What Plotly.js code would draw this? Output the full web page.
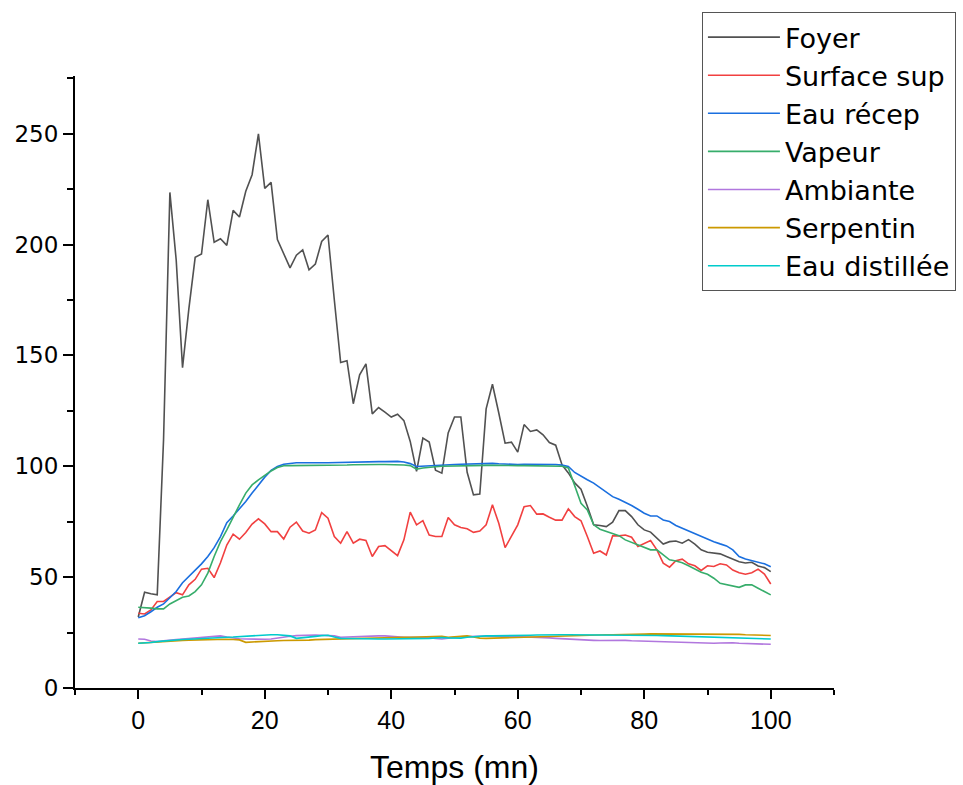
<!DOCTYPE html>
<html>
<head>
<meta charset="utf-8">
<script src="https://cdn.plot.ly/plotly-3.0.1.min.js"></script>
<style>html,body{margin:0;padding:0;background:#fff;}#chart{width:963px;height:785px;}</style>
</head>
<body>
<div id="chart"></div>
<script>
// Time (minutes)
const temps = Array.from({length: 101}, (_, i) => i);

const seriesNames = ["Foyer", "Surface sup", "Eau récep", "Vapeur", "Ambiante", "Serpentin", "Eau distillée"];
const seriesColors = ["#515151", "#F14040", "#1A6FDF", "#37AD6B", "#B177DE", "#CC9900", "#00CBCC"];

const foyer = [
  32, 43.2, 42.5, 42, 112, 223.5, 193, 144.5, 171, 194.2,
  195.7, 220.2, 201, 202.6, 199.6, 215.4, 212.4, 224, 231.5, 249.9,
  225.3, 228, 202.2, 195.7, 189.5, 195.2, 197.6, 188.6, 191.2, 201.4,
  204.3, 175, 146.8, 147.6, 128.2, 141.2, 146.2, 123.6, 126.5, 124.4,
  122.2, 123.5, 120.6, 111.2, 97.7, 112.7, 110.9, 98.2, 96.9, 115,
  122.2, 122.2, 97.3, 87.1, 87.5, 125.9, 137, 124, 110.4, 110.9,
  106.4, 118.8, 115.7, 116.4, 114.2, 110.7, 109.5, 100.6, 97, 92.5,
  89.7, 82, 73.6, 73.3, 72.8, 74.8, 80, 80, 77.3, 73.6,
  71.3, 70.3, 67.6, 64.9, 66, 66.3, 65.3, 66.9, 64.9, 62.3,
  61.2, 60.8, 60.5, 59.3, 58.1, 56.9, 56.4, 56.7, 55, 54.3,
  52.5
];
const surfaceSup = [
  33.7, 33.4, 35.2, 39, 39, 40.9, 43, 42, 46.5, 49,
  53.6, 54, 49.8, 56.5, 64.5, 69.4, 67.1, 70.1, 73.9, 76.3,
  74, 70.5, 70.5, 67.2, 72.5, 74.8, 70.8, 69.8, 71.3, 79.1,
  76.6, 68.3, 65.3, 70.5, 65.3, 67.1, 66.5, 59.3, 63.8, 64.2,
  62, 59.7, 66.8, 79.3, 73.6, 75.5, 69, 68.3, 68.3, 76.9,
  73.6, 72.4, 71.8, 70.2, 70.8, 73.6, 82.6, 74.3, 63.3, 68.3,
  73.6, 81.8, 82.3, 78.4, 78.5, 77, 75.7, 75.7, 80.8, 77.3,
  75.4, 68.3, 60.8, 61.8, 60, 68.6, 68.6, 69, 68, 63.8,
  65.3, 66.5, 62.3, 56.3, 54.5, 57.4, 58.1, 56, 55.1, 53,
  55.1, 54.8, 56, 55.5, 53.2, 52, 51.3, 52, 53.6, 51.4,
  46.9
];
const eauRecep = [
  31.7, 32.6, 34.4, 36.4, 37.9, 40.5, 43.5, 47.5, 50.2, 52.9,
  56, 59.3, 63.3, 68.3, 74.6, 77.6, 80.8, 84.1, 87.9, 91.6,
  95.1, 98.1, 99.9, 100.9, 101.4, 101.6, 101.6, 101.5, 101.6, 101.6,
  101.6, 101.7, 101.8, 101.9, 102, 102.1, 102.1, 102, 102.1, 102.1,
  102.2, 102.2, 101.9, 101.2, 99.9, 100.1, 100.3, 100.5, 100.6, 100.8,
  100.8, 100.9, 101, 100.9, 100.9, 101.2, 101.3, 101.1, 100.9, 100.7,
  100.8, 100.9, 100.9, 100.9, 100.9, 100.9, 100.8, 100.5, 99.9, 97.2,
  95.4, 93.9, 92.4, 90.4, 88.3, 86.3, 85.1, 83.8, 82.3, 80.6,
  78.8, 77.6, 77.6, 75.8, 75.1, 73.3, 72.1, 70.6, 69.4, 68.3,
  67.2, 66, 65, 64.1, 62.3, 59.3, 58.2, 57.5, 56.7, 56,
  54.7
];
const vapeur = [
  36.4, 36.3, 36, 35.7, 35.7, 37.9, 39.4, 40.9, 41.5, 43.5,
  46.5, 51.8, 59.3, 66, 71.3, 77.3, 82.6, 87.9, 91.6, 93.9,
  96.1, 97.9, 99.4, 100.2, 100.3, 100.3, 100.3, 100.3, 100.3, 100.3,
  100.3, 100.4, 100.5, 100.6, 100.7, 100.8, 100.8, 100.8, 100.8, 100.8,
  100.8, 100.8, 100.6, 100.3, 98.7, 99.2, 99.6, 99.8, 100, 100.1,
  100.2, 100.2, 100.3, 100.3, 100.3, 100.4, 100.4, 100.3, 100.3, 100.3,
  100.3, 100.3, 100.3, 100.3, 100.3, 100.2, 100.1, 100, 99.2, 90.8,
  83.3, 80.3, 73.6, 71.6, 70.6, 69.6, 68.7, 66.8, 65.6, 64.4,
  63.5, 62.3, 62.3, 60, 57.8, 57.3, 56.5, 55.1, 53.6, 52.2,
  51.3, 49.5, 47.2, 46.5, 46, 45.4, 46.5, 46.5, 45, 43.5,
  42
];
const ambiante = [
  22.1, 22.0, 21.2, 20.9, 21.3, 21.7, 21.9, 22.1, 22.3, 22.5,
  22.7, 22.9, 23.2, 23.5, 23.0, 22.5, 22.2, 22.1, 22.0, 22.0,
  22.0, 22.1, 22.6, 23.0, 23.3, 23.6, 23.8, 24.0, 23.9, 23.8,
  23.8, 23.5, 22.9, 23.0, 23.3, 23.5, 23.5, 23.5, 23.5, 23.5,
  23.2, 22.9, 22.9, 22.9, 22.9, 22.9, 22.7, 22.4, 22.1, 22.5,
  22.9, 23.1, 23.2, 23.3, 23.4, 23.5, 23.5, 23.5, 23.4, 23.3,
  23.3, 23.2, 23.2, 23.0, 22.8, 22.6, 22.4, 22.2, 22.0, 21.8,
  21.7, 21.6, 21.5, 21.4, 21.5, 21.6, 21.7, 21.5, 21.3, 21.2,
  21.1, 21.0, 21.0, 20.9, 20.9, 20.8, 20.7, 20.6, 20.5, 20.4,
  20.3, 20.2, 20.3, 20.5, 20.4, 20.2, 20.1, 20.0, 19.9, 19.8,
  19.7
];
const serpentin = [
  20.2, 20.4, 20.6, 20.9, 21.2, 21.3, 21.4, 21.5, 21.6, 21.7,
  21.7, 21.8, 21.8, 21.9, 22.0, 21.9, 21.7, 20.6, 20.8, 21.0,
  21.2, 21.3, 21.3, 21.4, 21.4, 21.4, 21.5, 21.6, 21.8, 21.9,
  22.0, 22.1, 22.2, 22.3, 22.4, 22.4, 22.5, 22.6, 22.6, 22.7,
  22.8, 22.8, 22.9, 22.9, 23.0, 23.0, 23.1, 23.2, 23.3, 22.9,
  23.0, 23.4, 23.5, 23.0, 22.5, 22.4, 22.5, 22.6, 22.7, 22.7,
  22.8, 22.9, 23.0, 23.1, 23.2, 23.3, 23.4, 23.5, 23.6, 23.7,
  23.8, 23.8, 23.9, 23.9, 24.0, 24.0, 24.0, 24.1, 24.2, 24.3,
  24.3, 24.4, 24.4, 24.4, 24.4, 24.4, 24.4, 24.4, 24.4, 24.3,
  24.3, 24.3, 24.3, 24.2, 24.2, 24.2, 24.0, 23.9, 23.8, 23.7,
  23.7
];
const eauDistillee = [
  20.2, 20.3, 20.5, 20.9, 21.2, 21.5, 21.7, 21.9, 22.0, 22.2,
  22.3, 22.5, 22.6, 22.7, 22.9, 23.0, 23.2, 23.3, 23.5, 23.6,
  23.8, 24.0, 24.0, 23.8, 23.5, 22.4, 22.6, 22.9, 23.3, 23.6,
  23.8, 23.0, 22.4, 22.3, 22.2, 22.1, 22.1, 22.1, 22.1, 22.1,
  22.1, 22.1, 22.2, 22.2, 22.3, 22.3, 22.4, 22.6, 22.8, 22.6,
  22.4, 22.5, 22.9, 23.2, 23.5, 23.5, 23.5, 23.5, 23.5, 23.5,
  23.6, 23.7, 23.8, 23.9, 24.0, 24.0, 24.0, 24.0, 24.0, 24.0,
  24.0, 24.0, 24.0, 24.0, 24.0, 24.0, 24.0, 24.0, 23.9, 23.9,
  23.8, 23.8, 23.7, 23.6, 23.5, 23.4, 23.3, 23.2, 23.1, 23.0,
  22.9, 22.9, 22.8, 22.7, 22.6, 22.5, 22.4, 22.3, 22.2, 22.1,
  22.1
];

const xTickVals = [0, 20, 40, 60, 80, 100];
const yTickVals = [0, 50, 100, 150, 200, 250];

const allSeries = [foyer, surfaceSup, eauRecep, vapeur, ambiante, serpentin, eauDistillee];

const traces = allSeries.map((ys, k) => ({
  x: temps,
  y: ys,
  type: 'scatter',
  mode: 'lines',
  name: seriesNames[k],
  line: {color: seriesColors[k], width: 1.6}
}));

const layout = {
  width: 963,
  height: 785,
  margin: {l: 75, r: 129, t: 76, b: 97, autoexpand: false},
  paper_bgcolor: '#ffffff',
  plot_bgcolor: '#ffffff',
  showlegend: true,
  legend: {
    x: 0.826, y: 1.1045, xanchor: 'left', yanchor: 'top',
    bgcolor: '#ffffff',
    bordercolor: '#555555',
    borderwidth: 1,
    font: {family: 'DejaVu Sans, Liberation Sans, sans-serif', size: 27, color: '#000000'},
    itemwidth: 72,
    tracegroupgap: 0
  },
  xaxis: {
    range: [-10, 110],
    tickvals: xTickVals,
    ticks: 'outside',
    ticklen: 9,
    tickwidth: 2,
    tickcolor: '#000000',
    showline: true,
    linecolor: '#000000',
    linewidth: 2,
    showgrid: false,
    zeroline: false,
    minor: {dtick: 10, tick0: 0, ticks: 'outside', ticklen: 5, tickwidth: 2, tickcolor: '#000000', showgrid: false},
    tickfont: {family: 'Liberation Sans, Arial, sans-serif', size: 25, color: '#000000'},
    title: {text: 'Temps (mn)', font: {family: 'Liberation Sans, Arial, sans-serif', size: 32, color: '#000000'}, standoff: 23}
  },
  yaxis: {
    range: [0, 276],
    tickvals: yTickVals,
    ticks: 'outside',
    ticklen: 10,
    tickwidth: 2,
    tickcolor: '#000000',
    showline: true,
    linecolor: '#000000',
    linewidth: 2,
    showgrid: false,
    zeroline: false,
    minor: {dtick: 25, tick0: 0, ticks: 'outside', ticklen: 6, tickwidth: 2, tickcolor: '#000000', showgrid: false},
    tickfont: {family: 'DejaVu Sans, Liberation Sans, sans-serif', size: 23, color: '#000000'}
  }
};

Plotly.newPlot('chart', traces, layout, {displayModeBar: false, staticPlot: true});
</script>
</body>
</html>
